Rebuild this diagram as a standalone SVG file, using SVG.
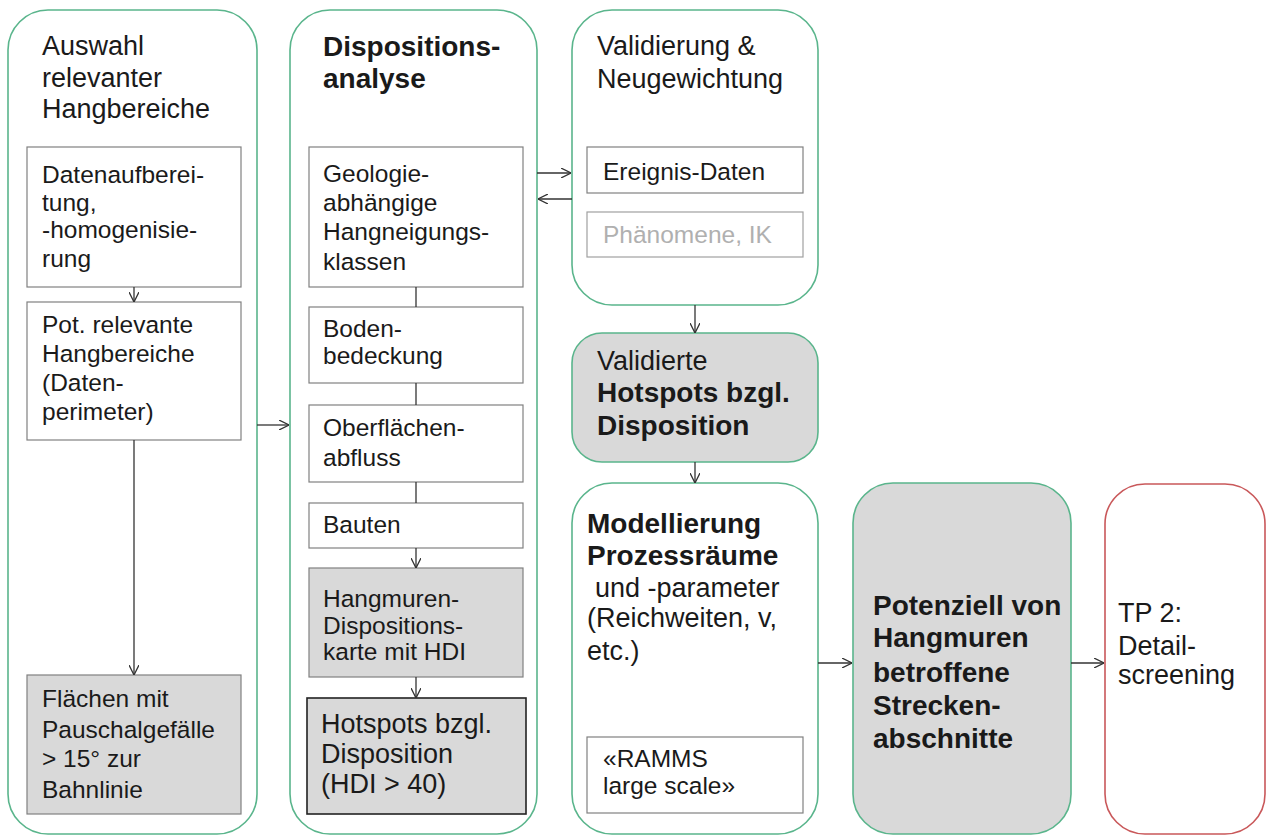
<svg xmlns="http://www.w3.org/2000/svg" width="1267" height="836" viewBox="0 0 1267 836">
<defs>
<marker id="ah" viewBox="0 0 10 10" refX="10" refY="5" markerWidth="10" markerHeight="10" markerUnits="userSpaceOnUse" orient="auto">
<path d="M0,0 L10,5 L0,10" fill="none" stroke="#333" stroke-width="1.3"/>
</marker>
<style>
.grp{fill:#fff;stroke:#5ab58c;stroke-width:1.6}
.grpg{fill:#d9d9d9;stroke:#5ab58c;stroke-width:1.6}
.red{fill:#fff;stroke:#c9585a;stroke-width:1.6}
.box{fill:#fff;stroke:#808080;stroke-width:1.2}
.gbox{fill:#d9d9d9;stroke:#808080;stroke-width:1.2}
.dbox{fill:#d9d9d9;stroke:#222;stroke-width:1.6}
.lbox{fill:#fff;stroke:#a0a0a0;stroke-width:1.2}
text{font-family:"Liberation Sans",Arial,sans-serif;fill:#1a1a1a}
.t{font-size:27px}
.b{font-size:28px;font-weight:bold}
.s{font-size:24.5px}
.m{font-size:27px}
.gray{fill:#b0b0b0}
.c line,.c path{stroke:#333;stroke-width:1.3;fill:none}
</style>
</defs>

<g id="col1">
<rect class="grp" x="8" y="10" width="249" height="824" rx="40"/>
<text class="t"><tspan x="42" y="55">Auswahl</tspan><tspan x="42" y="87">relevanter</tspan><tspan x="42" y="118">Hangbereiche</tspan></text>
</g>
<g id="datenaufbereitung">
<rect class="box" x="27" y="147" width="214" height="140"/>
<text class="s"><tspan x="42" y="183">Datenaufberei-</tspan><tspan x="42" y="211">tung,</tspan><tspan x="42" y="238">-homogenisie-</tspan><tspan x="42" y="267">rung</tspan></text>
</g>
<g id="potrelevante">
<rect class="box" x="27" y="302" width="214" height="138"/>
<text class="s"><tspan x="42" y="333">Pot.  relevante</tspan><tspan x="42" y="362">Hangbereiche</tspan><tspan x="42" y="391">(Daten-</tspan><tspan x="42" y="420">perimeter)</tspan></text>
</g>
<g id="flaechen">
<rect class="gbox" x="27" y="675" width="214" height="139"/>
<text class="s"><tspan x="42" y="707">Flächen  mit</tspan><tspan x="42" y="738">Pauschalgefälle</tspan><tspan x="42" y="767">&gt; 15°  zur</tspan><tspan x="42" y="798">Bahnlinie</tspan></text>
</g>

<g id="col2">
<rect class="grp" x="290" y="10" width="247" height="824" rx="40"/>
<text class="b"><tspan x="323" y="56">Dispositions-</tspan><tspan x="323" y="88">analyse</tspan></text>
</g>
<g id="geologie">
<rect class="box" x="309" y="147" width="214" height="140"/>
<text class="s"><tspan x="323" y="182">Geologie-</tspan><tspan x="323" y="211">abhängige</tspan><tspan x="323" y="240">Hangneigungs-</tspan><tspan x="323" y="270">klassen</tspan></text>
</g>
<g id="boden">
<rect class="box" x="309" y="307" width="214" height="76"/>
<text class="s"><tspan x="323" y="337">Boden-</tspan><tspan x="323" y="364">bedeckung</tspan></text>
</g>
<g id="oberflaechen">
<rect class="box" x="309" y="405" width="214" height="77"/>
<text class="s"><tspan x="323" y="436">Oberflächen-</tspan><tspan x="323" y="466">abfluss</tspan></text>
</g>
<g id="bauten">
<rect class="box" x="309" y="503" width="214" height="45"/>
<text class="s" x="323" y="533">Bauten</text>
</g>
<g id="hangmuren">
<rect class="gbox" x="309" y="568" width="214" height="109"/>
<text class="s"><tspan x="323" y="607">Hangmuren-</tspan><tspan x="323" y="634">Dispositions-</tspan><tspan x="323" y="660">karte  mit  HDI</tspan></text>
</g>
<g id="hotspots">
<rect class="dbox" x="307" y="698" width="219" height="116"/>
<text class="m"><tspan x="321" y="733">Hotspots bzgl.</tspan><tspan x="321" y="763">Disposition</tspan><tspan x="321" y="793">(HDI &gt; 40)</tspan></text>
</g>

<g id="validierung">
<rect class="grp" x="572" y="10" width="246" height="295" rx="40"/>
<text class="t"><tspan x="597" y="55">Validierung &amp;</tspan><tspan x="597" y="88">Neugewichtung</tspan></text>
</g>
<g id="ereignis">
<rect class="box" x="587" y="147" width="216" height="46"/>
<text class="s" x="603" y="180">Ereignis-Daten</text>
</g>
<g id="phaenomene">
<rect class="lbox" x="587" y="212" width="216" height="45"/>
<text class="s gray" x="603" y="243">Phänomene,  IK</text>
</g>
<g id="validierte">
<rect class="grpg" x="572" y="333" width="246" height="129" rx="30"/>
<text class="t" x="597" y="370">Validierte</text>
<text class="b"><tspan x="597" y="402">Hotspots bzgl.</tspan><tspan x="597" y="435">Disposition</tspan></text>
</g>
<g id="modellierung">
<rect class="grp" x="572" y="483" width="246" height="351" rx="40"/>
<text class="b"><tspan x="587" y="533">Modellierung</tspan><tspan x="587" y="565">Prozessräume</tspan></text>
<text class="t"><tspan x="595" y="597"> und -parameter</tspan><tspan x="587" y="627">(Reichweiten, v,</tspan><tspan x="587" y="660">etc.)</tspan></text>
</g>
<g id="ramms">
<rect class="box" x="587" y="737" width="216" height="76"/>
<text class="s"><tspan x="603" y="767">«RAMMS</tspan><tspan x="603" y="794">large  scale»</tspan></text>
</g>
<g id="potenziell">
<rect class="grpg" x="853" y="483" width="218" height="351" rx="40"/>
<text class="b"><tspan x="873" y="615">Potenziell von</tspan><tspan x="873" y="647">Hangmuren</tspan><tspan x="873" y="682">betroffene</tspan><tspan x="873" y="715">Strecken-</tspan><tspan x="873" y="748">abschnitte</tspan></text>
</g>
<g id="tp2">
<rect class="red" x="1105" y="484" width="160" height="350" rx="40"/>
<text class="t"><tspan x="1118" y="622">TP 2:</tspan><tspan x="1118" y="655">Detail-</tspan><tspan x="1118" y="684">screening</tspan></text>
</g>

<g id="connectors" class="c">
<line x1="134" y1="287" x2="134" y2="302" marker-end="url(#ah)"/>
<line x1="134" y1="440" x2="134" y2="675" marker-end="url(#ah)"/>
<line x1="257" y1="425" x2="289" y2="425" marker-end="url(#ah)"/>
<line x1="416" y1="287" x2="416" y2="307"/>
<line x1="416" y1="383" x2="416" y2="405"/>
<line x1="416" y1="482" x2="416" y2="503"/>
<line x1="416" y1="548" x2="416" y2="568" marker-end="url(#ah)"/>
<line x1="416" y1="677" x2="416" y2="698" marker-end="url(#ah)"/>
<line x1="537" y1="173" x2="571" y2="173" marker-end="url(#ah)"/>
<line x1="572" y1="199" x2="538" y2="199" marker-end="url(#ah)"/>
<line x1="695" y1="305" x2="695" y2="333" marker-end="url(#ah)"/>
<line x1="695" y1="462" x2="695" y2="483" marker-end="url(#ah)"/>
<line x1="818" y1="663" x2="852" y2="663" marker-end="url(#ah)"/>
<line x1="1071" y1="663" x2="1104" y2="663" marker-end="url(#ah)"/>
</g>
</svg>
